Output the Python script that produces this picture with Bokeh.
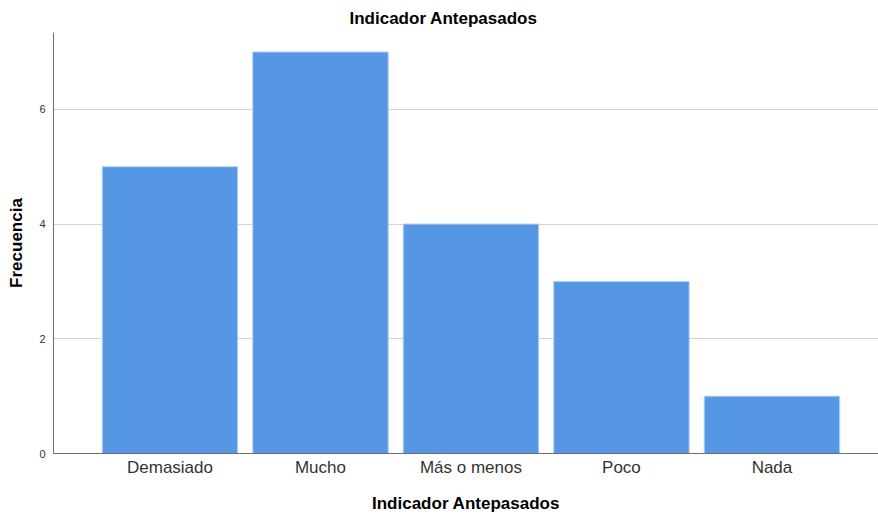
from bokeh.plotting import figure
from bokeh.models import ColumnDataSource, FixedTicker, Range1d
from bokeh.embed import file_html
from bokeh.resources import INLINE

categories = ["Demasiado", "Mucho", "Más o menos", "Poco", "Nada"]
frecuencia = [5, 7, 4, 3, 1]
positions = [1, 2, 3, 4, 5]
y_ticks = [0, 2, 4, 6]

src = ColumnDataSource(dict(x=positions, top=frecuencia, cat=categories))

p = figure(width=878, height=515, output_backend="svg", toolbar_location=None,
           x_range=Range1d(0.226, 5.708), y_range=Range1d(0, 7.34),
           min_border_left=53, min_border_top=32, min_border_bottom=61, min_border_right=0,
           title="Indicador Antepasados")
p.outline_line_color = None

p.vbar(x="x", top="top", width=0.9, source=src, fill_color="#5596E5",
       line_color="#b4cff2", line_width=1)

p.title.align = "left"
p.title.offset = 296
p.title.standoff = 9
p.title.text_font = "Liberation Sans"
p.title.text_font_size = "17px"
p.title.text_font_style = "bold"
p.title.text_color = "#000000"

p.xaxis.ticker = FixedTicker(ticks=positions)
p.xaxis.major_label_overrides = {pos: c for pos, c in zip(positions, categories)}
p.xaxis.axis_label = "Indicador Antepasados"
p.yaxis.axis_label = "Frecuencia"
p.yaxis.ticker = FixedTicker(ticks=y_ticks)

for ax in (p.xaxis, p.yaxis):
    ax.major_tick_line_color = None
    ax.minor_tick_line_color = None
    ax.axis_line_color = "#6e6e6e"
    ax.axis_label_text_font = "Liberation Sans"
    ax.axis_label_text_font_size = "17px"
    ax.axis_label_text_font_style = "bold"
    ax.axis_label_text_color = "#000000"
    ax.major_label_text_font = "Liberation Sans"
    ax.major_label_text_color = "#333333"

p.xaxis.major_label_text_font_size = "17px"
p.xaxis.major_label_standoff = -2
p.xaxis.axis_label_standoff = 14
p.yaxis.major_label_text_font_size = "11px"
p.yaxis.major_label_standoff = 2
p.yaxis.axis_label_standoff = 10

p.xgrid.grid_line_color = None
p.ygrid.grid_line_color = "#d4d4d4"
p.ygrid.grid_line_width = 1.2

open("out.html", "w").write(file_html(p, INLINE))
